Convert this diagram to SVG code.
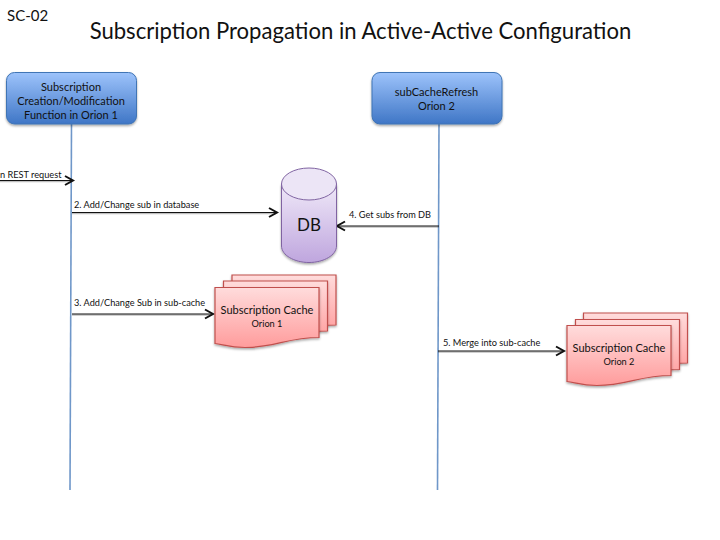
<svg xmlns="http://www.w3.org/2000/svg" width="720" height="540" viewBox="0 0 720 540">
<style>
text{font-family:Lato,"Open Sans","Liberation Sans",sans-serif;fill:#111}
.m{text-anchor:middle}
.t{font-size:11px}
.l{font-size:9.200px}
.box{fill:url(#blue);stroke:#3f74b5;stroke-width:1;filter:url(#sh)}
.doc{fill:url(#red);stroke:#c0504d;stroke-width:1.2;filter:url(#sh)}
.life{fill:none;stroke:#6f97c9;stroke-width:1.600}
.s{fill:none;stroke:#000;stroke-opacity:.25;stroke-width:1.600}
.c{fill:none;stroke:#111;stroke-width:1.200}
.h{fill:none;stroke:#111;stroke-width:2}
</style>
<defs>
<linearGradient id="blue" x1="0" y1="0" x2="0" y2="1"><stop offset="0" stop-color="#9dc3fb"/><stop offset="1" stop-color="#3f76c6"/></linearGradient>
<linearGradient id="red" x1="0" y1="0" x2="0" y2="1"><stop offset="0" stop-color="#ffdcdc"/><stop offset="1" stop-color="#ff9c9c"/></linearGradient>
<linearGradient id="pur" x1="0" y1="0" x2="0" y2="1"><stop offset="0" stop-color="#efe8f8"/><stop offset="1" stop-color="#bfa6de"/></linearGradient>
<filter id="sh" x="-10%" y="-10%" width="120%" height="125%"><feDropShadow dx="0" dy="1.500" stdDeviation="1.200" flood-color="#000" flood-opacity=".35"/></filter>
<path id="d" d="M0 0H104V50C72 50 60 60 30 60C15 60 8 57 0 56Z"/>
</defs>
<text x="7" y="21" font-size="15">SC-02</text>
<text x="360.500" y="39" font-size="22.100" class="m">Subscription Propagation in Active-Active Configuration</text>
<g id="connectors">
<path class="life" d="M71.500 124L70 490"/>
<path class="life" d="M439 124L437.500 490"/>
<path class="s" d="M0 181.500H72"/><path class="c" d="M0 180.500H73"/><path class="h" d="M65 176L73 180.500L65 185"/>
<path class="s" d="M72 213.500H276"/><path class="c" d="M72 212.500H277"/><path class="h" d="M269 208L277 212.500L269 217"/>
<path class="s" d="M439 227H338"/><path class="c" d="M439 226H337"/><path class="h" d="M345 221.500L337 226L345 230.500"/>
<path class="s" d="M72 315H212"/><path class="c" d="M72 314H213"/><path class="h" d="M205 309.500L213 314L205 318.500"/>
<path class="s" d="M438 352H563"/><path class="c" d="M438 351H564"/><path class="h" d="M556 346.500L564 351L556 355.500"/>
<text class="l" x="0" y="178">n REST request</text>
<text class="l" x="74" y="208">2. Add/Change sub in database</text>
<text class="l" x="349" y="218">4. Get subs from DB</text>
<text class="l" x="74" y="306">3. Add/Change Sub in sub-cache</text>
<text class="l" x="443" y="346">5. Merge into sub-cache</text>
</g>
<g id="node-creation">
<rect class="box" x="6.500" y="72.500" width="130" height="51.500" rx="8"/>
<text class="t m" x="71" y="91">Subscription</text>
<text class="t m" x="71" y="105">Creation/Modification</text>
<text class="t m" x="71" y="119">Function in Orion 1</text>
</g>
<g id="node-refresh">
<rect class="box" x="372" y="72.500" width="130" height="51.500" rx="8"/>
<text class="t m" x="436.500" y="96">subCacheRefresh</text>
<text class="t m" x="436.500" y="110">Orion 2</text>
</g>
<g id="node-db">
<path d="M281.500 184V246C281.500 255 294 262.500 309 262.500S336.500 255 336.500 246V184Z" fill="url(#pur)" stroke="#8064a2" stroke-width="1" filter="url(#sh)"/>
<ellipse cx="309" cy="184" rx="27.500" ry="16" fill="#ece5f6" stroke="#8064a2" stroke-width="1"/>
<text class="m" x="309" y="231" font-size="17">DB</text>
</g>
<g id="node-cache1">
<use href="#d" class="doc" transform="translate(232 275)"/>
<use href="#d" class="doc" transform="translate(223.500 281)"/>
<use href="#d" class="doc" transform="translate(215 287.500)"/>
<text class="t m" x="267" y="314">Subscription Cache</text>
<text class="l m" x="267" y="327">Orion 1</text>
</g>
<g id="node-cache2">
<use href="#d" class="doc" transform="translate(583.500 313)"/>
<use href="#d" class="doc" transform="translate(575.500 319.500)"/>
<use href="#d" class="doc" transform="translate(567 325.500)"/>
<text class="t m" x="619" y="352">Subscription Cache</text>
<text class="l m" x="619" y="365">Orion 2</text>
</g>
</svg>
